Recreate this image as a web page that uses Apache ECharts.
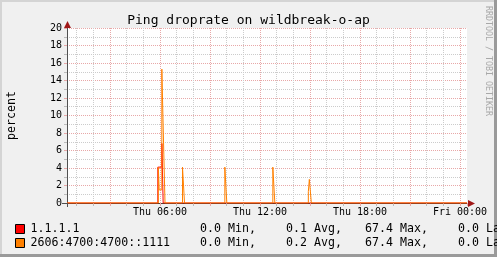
<!DOCTYPE html>
<html><head><meta charset="utf-8">
<script src="https://cdn.jsdelivr.net/npm/echarts@6/dist/echarts.min.js"></script>
<style>html,body{margin:0;padding:0;background:#f0f0f0}#c{width:497px;height:257px}</style>
</head><body><div id="c"></div>
<script>
// ---- data ----
const titleText = 'Ping droprate on wildbreak-o-ap';
const yName = 'percent';
const xMinHour = 0.42;   // Thu 00:25
const xMaxHour = 24.42;  // Fri 00:25
const tickHours = [6, 12, 18, 24];
const tickLabels = ['Thu 06:00', 'Thu 12:00', 'Thu 18:00', 'Fri 00:00'];
const seriesNames = ['1.1.1.1', '2606:4700:4700::1111'];
const seriesColors = ['#ff0000', '#ff8000'];
// step data: value holds from time until next time (hours since Thu 00:00)
const redTimes  = [0.42, 5.87, 6.11, 6.19, 24.42];
const redValues = [0, 4.1, 6.8, 0, 0];
const orangeTimes  = [0.42, 5.90, 5.95, 6.11, 6.23, 6.30, 7.35, 7.47, 9.89, 10.01, 12.77, 12.89, 14.90, 14.96, 15.08, 24.42];
const orangeValues = [0, 4.1, 1.5, 15.3, 5.5, 0, 4.1, 0, 4.1, 0, 4.1, 0, 1.3, 2.7, 0, 0];
const statMin  = ['0.0', '0.0'];
const statAvg  = ['0.1', '0.2'];
const statMax  = ['67.4', '67.4'];
const statLast = ['0.0', '0.0'];

const mono = 'DejaVu Sans Mono';
const zip = (t, v) => t.map((x, i) => [x, v[i]]);

const chart = echarts.init(document.getElementById('c'), null, {renderer: 'canvas'});

const statCols = [
  {arr: statMin, suffix: ' Min,', x: 221},
  {arr: statAvg, suffix: ' Avg,', x: 307},
  {arr: statMax, suffix: ' Max,', x: 393},
  {arr: statLast, suffix: ' Last', x: 479}
];
const rowY = [229, 243];
const graphics = [
  {type: 'rect', shape: {x: 0, y: 0, width: 497, height: 2}, style: {fill: '#d4d4d4'}, silent: true},
  {type: 'rect', shape: {x: 0, y: 0, width: 2, height: 257}, style: {fill: '#d4d4d4'}, silent: true},
  {type: 'rect', shape: {x: 494, y: 0, width: 3, height: 257}, style: {fill: '#9a9a9a'}, silent: true},
  {type: 'rect', shape: {x: 0, y: 254, width: 497, height: 3}, style: {fill: '#9a9a9a'}, silent: true},
  {type: 'polygon', shape: {points: [[64, 28], [71, 28], [67.5, 21]]}, style: {fill: '#a01818'}, z: 10},
  {type: 'polygon', shape: {points: [[468, 200], [468, 207], [475, 203.5]]}, style: {fill: '#a01818'}, z: 10},
  {type: 'line', shape: {x1: 67.5, y1: 203, x2: 67.5, y2: 207}, style: {stroke: '#505050', lineWidth: 1}, z: 10},
  {type: 'line', shape: {x1: 62, y1: 203.5, x2: 67, y2: 203.5}, style: {stroke: '#505050', lineWidth: 1}, z: 10},
  {type: 'text', x: 484, y: 6, rotation: -Math.PI / 2,
   style: {text: 'RRDTOOL / TOBI OETIKER', font: '8.3px ' + mono, fill: '#a8a8a8', textAlign: 'left', textVerticalAlign: 'bottom'}}
];
for (let r = 0; r < 2; r++) {
  statCols.forEach(c => {
    graphics.push({type: 'text', x: c.x, y: rowY[r],
      style: {text: c.arr[r], font: '11.6px ' + mono, fill: '#000', textAlign: 'right', textVerticalAlign: 'middle'}});
    graphics.push({type: 'text', x: c.x, y: rowY[r],
      style: {text: c.suffix, font: '11.6px ' + mono, fill: '#000', textAlign: 'left', textVerticalAlign: 'middle'}});
  });
}

chart.setOption({
  animation: false,
  backgroundColor: '#f0f0f0',
  title: {text: titleText, left: 'center', top: 9,
    textStyle: {fontFamily: mono, fontSize: 13, fontWeight: 'normal', color: '#000'}},
  grid: {left: 67, top: 28, width: 400, height: 175, show: true, backgroundColor: '#ffffff', borderWidth: 0,
    containLabel: false, outerBoundsMode: 'none'},
  legend: {type: 'plain', orient: 'vertical', left: 15, top: 222, height: 30, padding: 0,
    itemWidth: 9, itemHeight: 9, itemGap: 0, icon: 'rect',
    selectedMode: false,
    itemStyle: {borderColor: '#000', borderWidth: 1},
    textStyle: {fontFamily: mono, fontSize: 11.6, color: '#000', lineHeight: 14, padding: [0, 0, 0, 1]},
    data: seriesNames},
  xAxis: [
    {type: 'value', min: xMinHour, max: xMaxHour, minInterval: 1, maxInterval: 1,
     axisLine: {show: true, onZero: false, lineStyle: {color: '#5a3a2a', width: 1}},
     axisTick: {show: true, length: 3, lineStyle: {color: '#bbbbbb'}},
     axisLabel: {interval: 0, margin: 4, fontFamily: mono, fontSize: 10, color: '#000',
       showMinLabel: true, showMaxLabel: true,
       formatter: v => { const i = tickHours.findIndex(h => Math.abs(h - v) < 1e-6); return i >= 0 ? tickLabels[i] : ''; }},
     splitLine: {show: true, showMaxLine: false, lineStyle: {color: '#cccccc', type: [1, 1], width: 1}}},
    {type: 'value', min: xMinHour, max: xMaxHour, minInterval: 3, maxInterval: 3, position: 'bottom',
     axisLine: {show: false}, axisLabel: {show: false},
     axisTick: {show: true, length: 3, lineStyle: {color: '#e8a8a8'}},
     splitLine: {show: true, showMaxLine: false, lineStyle: {color: '#e8a8a8', type: [1, 1], width: 1}}}
  ],
  yAxis: [
    {type: 'value', min: 0, max: 20, interval: 2,
     name: yName, nameLocation: 'middle', nameGap: 49, nameRotate: 90,
     nameTextStyle: {fontFamily: mono, fontSize: 11.6, color: '#000'},
     axisLine: {show: true, lineStyle: {color: '#505050', width: 1}},
     axisTick: {show: true, length: 3, lineStyle: {color: '#e8a8a8'}},
     axisLabel: {margin: 5, fontFamily: mono, fontSize: 10, color: '#000'},
     splitLine: {show: true, lineStyle: {color: '#e8a8a8', type: [1, 1], width: 1}},
     minorTick: {show: true, splitNumber: 2, length: 3, lineStyle: {color: '#bbbbbb'}},
     minorSplitLine: {show: true, lineStyle: {color: '#cccccc', type: [1, 1], width: 1}}}
  ],
  series: [
    {name: seriesNames[0], type: 'line', step: 'end', showSymbol: false, symbol: 'none',
     xAxisIndex: 0, yAxisIndex: 0, color: seriesColors[0], z: 3,
     lineStyle: {color: seriesColors[0], width: 1}, data: zip(redTimes, redValues)},
    {name: seriesNames[1], type: 'line', step: 'end', showSymbol: false, symbol: 'none',
     xAxisIndex: 0, yAxisIndex: 0, color: seriesColors[1], z: 4,
     lineStyle: {color: seriesColors[1], width: 1}, data: zip(orangeTimes, orangeValues)}
  ],
  graphic: graphics
});
</script>
</body></html>
